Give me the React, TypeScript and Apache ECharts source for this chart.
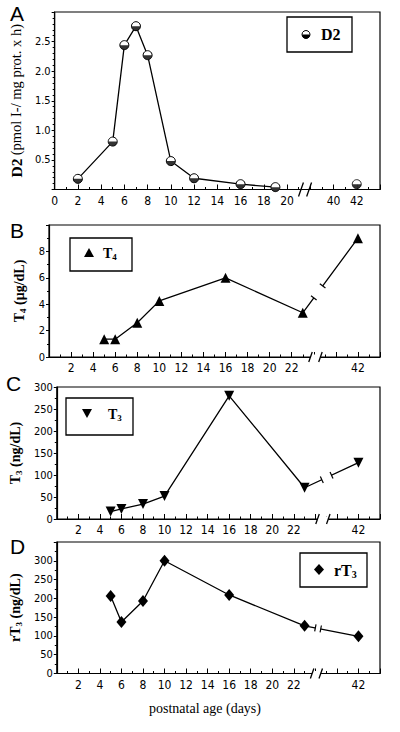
import React, { useEffect, useRef } from 'react';
import * as echarts from 'echarts';

// ---------- data ----------
const daysD2 = [2, 5, 6, 7, 8, 10, 12, 16, 19, 42];
const d2Values = [0.18, 0.81, 2.44, 2.76, 2.27, 0.48, 0.19, 0.09, 0.04, 0.09];
const daysHormone = [5, 6, 8, 10, 16, 23, 42];
const t4Values = [1.35, 1.35, 2.6, 4.25, 6.0, 3.35, 9.0];
const t3Values = [17, 23, 34, 52, 280, 71, 128];
const rt3Values = [206, 137, 193, 300, 209, 127, 99];
const xTickLabelsA = [0, 2, 4, 6, 8, 10, 12, 14, 16, 18, 20, 40, 42];
const xTickLabelsHormone = [2, 4, 6, 8, 10, 12, 14, 16, 18, 20, 22, 42];

// ---------- layout / styling ----------
const SERIF = "'Liberation Serif', 'Times New Roman', serif";
const TICK = "'Liberation Sans Narrow', 'Arial Narrow', 'DejaVu Sans Condensed', 'Liberation Sans', sans-serif";
const SANS = "'Liberation Sans', Arial, sans-serif";
const GRID_LEFT = 49;
const GRID_WIDTH = 331;
const gridTops = [12, 225, 387, 542];
const gridHeights = [177.5, 132, 132, 131.5];
// axis-break mapping (days beyond the break are shifted left)
const BREAK_DAY = 30;
const shiftA = 16;
const shiftH = 14;
const xMaxA = 28;
const xMaxH = 30;

const mapX = (d: number, shift: number) => (d >= BREAK_DAY ? d - shift : d);
const unmapX = (v: number, shift: number, cut: number) => (v > cut ? v + shift : v);

const mkFormatter = (labels: number[], shift: number, cut: number) => (v: number) => {
  const o = Math.round(unmapX(v, shift, cut));
  return labels.includes(o) && Math.abs(v - Math.round(v)) < 1e-6 ? String(o) : '';
};

function pairs(days: number[], vals: number[], shift: number) {
  return days.map((d, i) => [mapX(d, shift), vals[i]]);
}

function breakSeries(
  idx: number,
  axisGap: [number, number],
  cutAxis: boolean,
  slashH: number,
  lineGap: null | { gap: [number, number]; days: number[]; vals: number[]; shift: number }
) {
  return {
    type: 'custom',
    xAxisIndex: idx,
    yAxisIndex: idx,
    z: 5,
    silent: true,
    clip: false,
    data: [[axisGap[0], 0]],
    renderItem: (_p: any, api: any) => {
      const a = api.coord([axisGap[0], 0]);
      const b = api.coord([axisGap[1], 0]);
      const children: any[] = [];
      if (cutAxis) {
        children.push({
          type: 'rect',
          shape: { x: a[0], y: a[1] - 2.5, width: b[0] - a[0], height: 5 },
          style: { fill: '#fff' },
        });
      }
      [a, b].forEach((p: number[]) =>
        children.push({
          type: 'line',
          shape: { x1: p[0] - slashH * 0.35, y1: p[1] + slashH, x2: p[0] + slashH * 0.35, y2: p[1] - slashH },
          style: { stroke: '#000', lineWidth: 1.3 },
        })
      );
      if (lineGap) {
        const { days, vals, shift } = lineGap;
        let k = 0;
        while (k < days.length - 1 && days[k + 1] < BREAK_DAY) k++;
        const p0 = api.coord([mapX(days[k], shift), vals[k]]);
        const p1 = api.coord([mapX(days[k + 1], shift), vals[k + 1]]);
        const s = api.coord([lineGap.gap[0], 0])[0];
        const e = api.coord([lineGap.gap[1], 0])[0];
        const at = (x: number) => [x, p0[1] + ((p1[1] - p0[1]) * (x - p0[0])) / (p1[0] - p0[0])];
        const q0 = at(s);
        const q1 = at(e);
        children.push({
          type: 'line',
          shape: { x1: q0[0], y1: q0[1], x2: q1[0], y2: q1[1] },
          style: { stroke: '#fff', lineWidth: 4 },
        });
        const dx = p1[0] - p0[0];
        const dy = p1[1] - p0[1];
        const L = Math.hypot(dx, dy);
        const nx = (-dy / L) * 3.5;
        const ny = (dx / L) * 3.5;
        [q0, q1].forEach((q) =>
          children.push({
            type: 'line',
            shape: { x1: q[0] + nx, y1: q[1] + ny, x2: q[0] - nx, y2: q[1] - ny },
            style: { stroke: '#000', lineWidth: 1.2 },
          })
        );
      }
      return { type: 'group', children };
    },
  };
}

const HALF_BOTTOM = 'path://M0,0 A10,10 0 0 0 20,0 Z';

export default function App() {
  const ref = useRef<HTMLDivElement>(null);

  useEffect(() => {
    if (!ref.current) return;
    const chart = echarts.init(ref.current, null, { renderer: 'svg' });

    const grid = gridTops.map((t, i) => ({
      left: GRID_LEFT,
      width: GRID_WIDTH,
      top: t,
      height: gridHeights[i],
      show: true,
      borderColor: '#000',
      borderWidth: 1.2,
      backgroundColor: 'transparent',
    }));

    const xAxis = [0, 1, 2, 3].map((i) => ({
      type: 'value',
      gridIndex: i,
      min: 0,
      max: i === 0 ? xMaxA : xMaxH,
      interval: 2,
      axisLine: { onZero: false, lineStyle: { color: '#000', width: 1.2 } },
      axisTick: { inside: true, length: 5, lineStyle: { color: '#000', width: 1 } },
      minorTick: { show: true, splitNumber: 2, length: 2.5, lineStyle: { color: '#000', width: 1 } },
      splitLine: { show: false },
      axisLabel: {
        color: '#000',
        fontFamily: TICK,
        fontSize: 12,
        margin: 5,
        formatter: i === 0 ? mkFormatter(xTickLabelsA, shiftA, 22) : mkFormatter(xTickLabelsHormone, shiftH, 24),
      },
    }));

    const yBase = {
      type: 'value',
      min: 0,
      axisLine: { show: true, onZero: false, lineStyle: { color: '#000', width: 1.2 } },
      axisTick: { show: true, length: 3, lineStyle: { color: '#000' } },
      minorTick: { show: true, splitNumber: 2, length: 2, lineStyle: { color: '#000' } },
      splitLine: { show: false },
      nameLocation: 'middle',
    };
    const yLabel = { color: '#000', fontFamily: TICK, fontSize: 11, margin: 4 };
    const subRich = {
      b: { fontFamily: SERIF, fontWeight: 'bold', fontSize: 14, color: '#000', lineHeight: 16 },
      s: { fontFamily: SERIF, fontWeight: 'bold', fontSize: 9, color: '#000', verticalAlign: 'bottom', lineHeight: 16 },
    };
    const d2Rich = {
      b: { fontFamily: SERIF, fontWeight: 'bold', fontSize: 15.5, color: '#000', lineHeight: 17 },
      n: { fontFamily: SERIF, fontSize: 14.5, color: '#000', lineHeight: 17 },
    };
    const yAxis = [
      {
        ...yBase,
        gridIndex: 0,
        max: 3,
        interval: 0.5,
        minorTick: { ...yBase.minorTick, splitNumber: 5 },
        axisLabel: { ...yLabel, showMinLabel: false, showMaxLabel: false, formatter: (v: number) => v.toFixed(1) },
        name: '{b|D2} {n|(pmol I-/ mg prot. x h)}',
        nameGap: 15,
        nameTextStyle: { rich: d2Rich },
      },
      {
        ...yBase,
        gridIndex: 1,
        max: 10,
        interval: 2,
        axisLabel: { ...yLabel, showMaxLabel: false },
        name: '{b|T}{s|4}{b| (μg/dL)}',
        nameGap: 14,
        nameTextStyle: { rich: subRich },
      },
      {
        ...yBase,
        gridIndex: 2,
        max: 300,
        interval: 50,
        axisLabel: { ...yLabel },
        name: '{b|T}{s|3}{b| (ng/dL)}',
        nameGap: 12,
        nameTextStyle: { rich: subRich },
      },
      {
        ...yBase,
        gridIndex: 3,
        max: 350,
        interval: 50,
        axisLabel: { ...yLabel, showMaxLabel: false },
        name: '{b|rT}{s|3}{b| (ng/dL)}',
        nameGap: 11,
        nameTextStyle: { rich: subRich },
      },
    ];

    const lineStyle = { color: '#000', width: 1.3 };
    const dataA = pairs(daysD2, d2Values, shiftA);
    const preA = dataA.filter((p, i) => daysD2[i] < BREAK_DAY);
    const postA = dataA.filter((p, i) => daysD2[i] >= BREAK_DAY);

    const series: any[] = [
      {
        type: 'line',
        xAxisIndex: 0,
        yAxisIndex: 0,
        data: preA,
        symbol: 'circle',
        symbolSize: 9,
        lineStyle,
        itemStyle: { color: '#fff', borderColor: '#000', borderWidth: 1 },
      },
      {
        type: 'scatter',
        xAxisIndex: 0,
        yAxisIndex: 0,
        data: postA,
        symbol: 'circle',
        symbolSize: 9,
        itemStyle: { color: '#fff', borderColor: '#000', borderWidth: 1 },
      },
      {
        type: 'scatter',
        xAxisIndex: 0,
        yAxisIndex: 0,
        z: 4,
        data: dataA,
        symbol: HALF_BOTTOM,
        symbolSize: [9, 4.5],
        symbolOffset: [0, 2.25],
        itemStyle: { color: '#000' },
      },
      {
        type: 'line',
        xAxisIndex: 1,
        yAxisIndex: 1,
        data: pairs(daysHormone, t4Values, shiftH),
        symbol: 'triangle',
        symbolSize: 10,
        lineStyle,
        itemStyle: { color: '#000' },
      },
      {
        type: 'line',
        xAxisIndex: 2,
        yAxisIndex: 2,
        data: pairs(daysHormone, t3Values, shiftH),
        symbol: 'triangle',
        symbolRotate: 180,
        symbolSize: 10,
        lineStyle,
        itemStyle: { color: '#000' },
      },
      {
        type: 'line',
        xAxisIndex: 3,
        yAxisIndex: 3,
        data: pairs(daysHormone, rt3Values, shiftH),
        symbol: 'diamond',
        symbolSize: [10, 12],
        lineStyle,
        itemStyle: { color: '#000' },
      },
      breakSeries(0, [21.2, 21.9], false, 7, null),
      breakSeries(1, [23.7, 24.6], true, 5, { gap: [24.0, 24.8], days: daysHormone, vals: t4Values, shift: shiftH }),
      breakSeries(2, [24.2, 25.2], true, 5, { gap: [24.6, 25.5], days: daysHormone, vals: t3Values, shift: shiftH }),
      breakSeries(3, [23.7, 24.5], true, 5, { gap: [24.0, 24.5], days: daysHormone, vals: rt3Values, shift: shiftH }),
    ];

    const legendRich = (size: number) => ({
      b: { fontFamily: SERIF, fontWeight: 'bold', fontSize: size, fill: '#000', lineHeight: size + 2 },
      s: { fontFamily: SERIF, fontWeight: 'bold', fontSize: Math.round(size * 0.64), fill: '#000', verticalAlign: 'bottom', lineHeight: size + 2 },
    });
    const letter = (t: string, x: number, y: number) => ({
      type: 'text',
      x,
      y,
      style: { text: t, fontFamily: SANS, fontSize: 21, fill: '#000' },
    });

    const graphic = [
      letter('A', 10, 3),
      letter('B', 10, 220),
      letter('C', 6, 373),
      letter('D', 10, 536),
      // legend A
      { type: 'rect', shape: { x: 287, y: 17, width: 65, height: 35 }, style: { fill: '#fff', stroke: '#000', lineWidth: 1.3 } },
      { type: 'circle', shape: { cx: 306, cy: 34.5, r: 4 }, style: { fill: '#fff', stroke: '#000', lineWidth: 1 } },
      { type: 'sector', shape: { cx: 306, cy: 34.5, r: 4, r0: 0, startAngle: 0, endAngle: Math.PI, clockwise: true }, style: { fill: '#000' } },
      { type: 'text', x: 321, y: 34.5, style: { text: 'D2', fontFamily: SERIF, fontWeight: 'bold', fontSize: 16, fill: '#000', verticalAlign: 'middle' } },
      // legend B
      { type: 'rect', shape: { x: 70, y: 238, width: 62, height: 33 }, style: { fill: '#fff', stroke: '#000', lineWidth: 1.3 } },
      { type: 'polygon', shape: { points: [[89, 248], [94, 257], [84, 257]] }, style: { fill: '#000' } },
      { type: 'text', x: 103, y: 253, style: { text: '{b|T}{s|4}', rich: legendRich(14), verticalAlign: 'middle' } },
      // legend C
      { type: 'rect', shape: { x: 66, y: 398, width: 67, height: 37 }, style: { fill: '#fff', stroke: '#000', lineWidth: 1.3 } },
      { type: 'polygon', shape: { points: [[82, 409], [92, 409], [87, 418]] }, style: { fill: '#000' } },
      { type: 'text', x: 108, y: 414, style: { text: '{b|T}{s|3}', rich: legendRich(14), verticalAlign: 'middle' } },
      // legend D
      { type: 'rect', shape: { x: 300, y: 553, width: 67, height: 34 }, style: { fill: '#fff', stroke: '#000', lineWidth: 1.3 } },
      { type: 'polygon', shape: { points: [[319, 564], [324, 569.5], [319, 575], [314, 569.5]] }, style: { fill: '#000' } },
      { type: 'text', x: 334, y: 570, style: { text: '{b|rT}{s|3}', rich: legendRich(16), verticalAlign: 'middle' } },
      // x-axis title
      { type: 'text', x: 205, y: 708, style: { text: 'postnatal age (days)', fontFamily: SERIF, fontSize: 14, fill: '#000', align: 'center', verticalAlign: 'middle' } },
    ];

    chart.setOption({
      animation: false,
      backgroundColor: '#fff',
      grid,
      xAxis,
      yAxis,
      series,
      graphic,
    });

    return () => chart.dispose();
  }, []);

  return <div ref={ref} style={{ position: 'absolute', left: 0, top: 0, width: 400, height: 732 }} />;
}
